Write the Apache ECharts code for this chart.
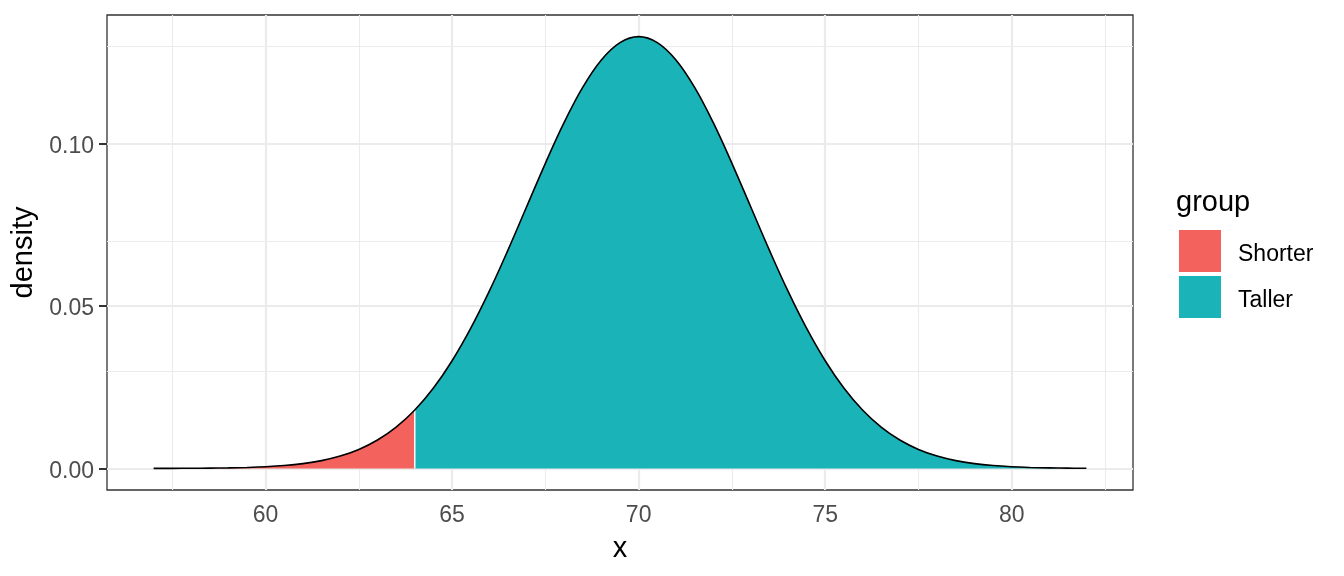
<!DOCTYPE html>
<html>
<head>
<meta charset="utf-8">
<script src="https://cdn.jsdelivr.net/npm/echarts@6/dist/echarts.min.js"></script>
<style>
  html, body { margin: 0; padding: 0; background: #fff; }
  #chart { width: 1344px; height: 576px; }
</style>
</head>
<body>
<div id="chart"></div>
<script>
// ---- data ----
const xValues = [57, 57.5, 58, 58.5, 59, 59.5, 60, 60.5, 61, 61.5, 62, 62.5, 63, 63.5, 64,
  64.5, 65, 65.5, 66, 66.5, 67, 67.5, 68, 68.5, 69, 69.5, 70,
  70.5, 71, 71.5, 72, 72.5, 73, 73.5, 74, 74.5, 75, 75.5, 76, 76.5, 77, 77.5, 78,
  78.5, 79, 79.5, 80, 80.5, 81, 81.5, 82];
const densityValues = [0.000011, 0.000023, 0.000045, 0.000086, 0.00016, 0.00029, 0.00051, 0.00088, 0.00148, 0.0024, 0.0038, 0.00584, 0.00874, 0.01272, 0.018,
  0.02476, 0.03316, 0.04318, 0.05467, 0.06733, 0.08066, 0.09397, 0.10648, 0.11736, 0.1258, 0.13115, 0.13298,
  0.13115, 0.1258, 0.11736, 0.10648, 0.09397, 0.08066, 0.06733, 0.05467, 0.04318, 0.03316, 0.02476, 0.018, 0.01272, 0.00874, 0.00584, 0.0038,
  0.0024, 0.00148, 0.00088, 0.00051, 0.00029, 0.00016, 0.000086, 0.000045];
const cutoff = 64;
const groupNames = ['Shorter', 'Taller'];
const xTicks = [60, 65, 70, 75, 80];
const xMinor = [57.5, 62.5, 67.5, 72.5, 77.5, 82.5];
const yTicks = [0, 0.05, 0.10];
const yMinor = [0.025, 0.075, 0.125];

// ---- build ----
const colors = { Shorter: '#F4625D', Taller: '#1AB4B8' };
const allPts = xValues.map((x, i) => [x, densityValues[i]]);
const shorterPts = allPts.filter(p => p[0] <= cutoff);
const tallerPts = allPts.filter(p => p[0] >= cutoff);
const cutY = densityValues[xValues.indexOf(cutoff)];

const FONT = 'Liberation Sans, Arial, sans-serif';
const gridMarks = [];
xTicks.forEach(v => gridMarks.push({ xAxis: v, lineStyle: { color: '#EBEBEB', width: 2.2, type: 'solid' } }));
xMinor.forEach(v => gridMarks.push({ xAxis: v, lineStyle: { color: '#EBEBEB', width: 1.1, type: 'solid' } }));
yTicks.forEach(v => gridMarks.push({ yAxis: v, lineStyle: { color: '#EBEBEB', width: 2.2, type: 'solid' } }));
yMinor.forEach(v => gridMarks.push({ yAxis: v, lineStyle: { color: '#EBEBEB', width: 1.1, type: 'solid' } }));

const chart = echarts.init(document.getElementById('chart'), null, { renderer: 'canvas' });
chart.setOption({
  animation: false,
  textStyle: { fontFamily: FONT },
  grid: { left: 107, right: 211, top: 15, bottom: 86, show: true, borderColor: '#333333', borderWidth: 1.3, backgroundColor: 'transparent' },
  title: { text: 'group', left: 1176, top: 188, padding: 0, textStyle: { fontSize: 29, fontWeight: 'normal', color: '#000', fontFamily: FONT } },
  legend: {
    orient: 'vertical', left: 1179, top: 230, padding: 0,
    itemWidth: 42, itemHeight: 42, itemGap: 4, icon: 'rect',
    data: groupNames.map(n => ({ name: n, itemStyle: { color: colors[n] } })),
    formatter: n => '{t|' + n + '}',
    textStyle: { fontSize: 23, color: '#000', fontFamily: FONT,
      rich: { t: { fontSize: 23, color: '#000', fontFamily: FONT, padding: [8, 0, 0, 12] } } }
  },
  xAxis: {
    type: 'value', min: 55.75, max: 83.25,
    name: 'x', nameLocation: 'middle', nameGap: 44,
    nameTextStyle: { fontSize: 29, color: '#000', fontFamily: FONT },
    axisLine: { show: false },
    splitLine: { show: false },
    axisTick: { show: true, customValues: xTicks, length: 8, lineStyle: { color: '#333333', width: 2 } },
    axisLabel: { customValues: xTicks, fontSize: 23, color: '#4D4D4D', margin: 14, fontFamily: FONT }
  },
  yAxis: {
    type: 'value', min: -0.00665, max: 0.13965,
    name: 'density', nameLocation: 'middle', nameGap: 66, nameRotate: 90,
    nameTextStyle: { fontSize: 29, color: '#000', fontFamily: FONT },
    axisLine: { show: false },
    splitLine: { show: false },
    axisTick: { show: true, customValues: yTicks, length: 8, lineStyle: { color: '#333333', width: 2 } },
    axisLabel: { customValues: yTicks, fontSize: 23, color: '#4D4D4D', margin: 13, fontFamily: FONT,
      formatter: v => '{t|' + v.toFixed(2) + '}',
      rich: { t: { fontSize: 23, color: '#4D4D4D', fontFamily: FONT, padding: [6, 0, 0, 0] } } }
  },
  series: [
    {
      name: 'gridlines', type: 'line', data: [], silent: true,
      markLine: { silent: true, symbol: 'none', label: { show: false }, z: 1, data: gridMarks, animation: false }
    },
    {
      name: 'Shorter', type: 'line', data: shorterPts, smooth: 0.4, showSymbol: false, z: 2,
      color: colors.Shorter, itemStyle: { color: colors.Shorter },
      lineStyle: { width: 0 }, areaStyle: { color: colors.Shorter, opacity: 1 }
    },
    {
      name: 'Taller', type: 'line', data: tallerPts, smooth: 0.4, showSymbol: false, z: 2,
      color: colors.Taller, itemStyle: { color: colors.Taller },
      lineStyle: { width: 0 }, areaStyle: { color: colors.Taller, opacity: 1 }
    },
    {
      name: 'divider', type: 'line', data: [[cutoff, 0], [cutoff, cutY]], showSymbol: false, z: 3,
      lineStyle: { color: '#FFFFFF', width: 1.4 }
    },
    {
      name: 'outline', type: 'line', data: allPts, smooth: 0.4, showSymbol: false, z: 4,
      lineStyle: { color: '#000000', width: 1.6 }
    }
  ]
});
</script>
</body>
</html>
